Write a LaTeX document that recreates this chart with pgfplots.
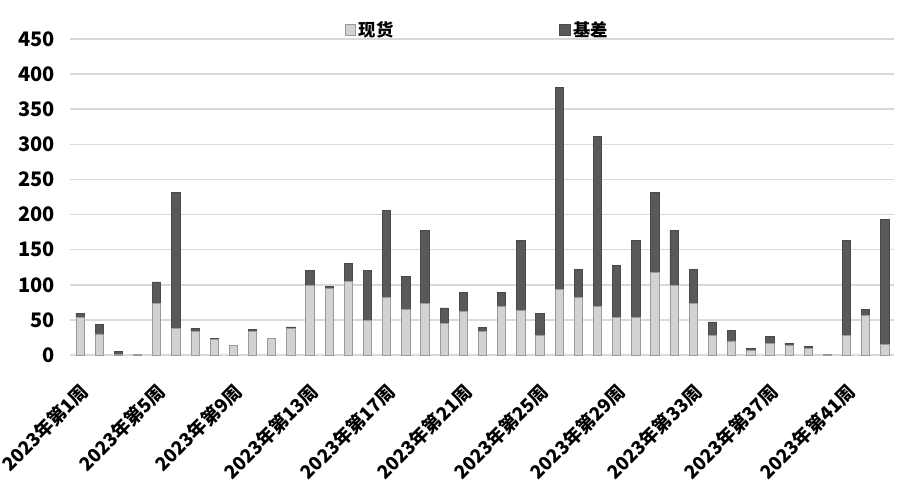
\documentclass[border=0pt]{standalone}
\usepackage{pgfplots}
\pgfplotsset{compat=1.18}
\usepackage{pgfplotstable}
\usepackage{fontspec}
\setmainfont{Noto Sans CJK SC}
\definecolor{xhfill}{HTML}{D2D2D2}
\definecolor{xhdraw}{HTML}{9A9A9A}
\definecolor{jcfill}{HTML}{595959}
\definecolor{jcdraw}{HTML}{4A4A4A}
\definecolor{gridc}{HTML}{D9D9D9}

% week, 现货, 基差
\pgfplotstableread{
week xh jc
1 54 5
2 30 13
3 1 4
4 1 0
5 74 30
6 38 193
7 33 5
8 22 2
9 13 1
10 33 4
11 24 0
12 38 2
13 99 21
14 95 3
15 105 26
16 49 71
17 82 124
18 65 47
19 73 104
20 45 22
21 62 27
22 34 5
23 69 20
24 64 99
25 28 31
26 93 288
27 82 40
28 69 242
29 53 75
30 54 109
31 117 115
32 99 78
33 73 49
34 28 19
35 20 15
36 7 2
37 17 10
38 13 4
39 9 3
40 1 0
41 28 135
42 56 9
43 15 178
}\weekdata

\begin{document}
\begin{tikzpicture}
\useasboundingbox (-52.875pt,-98.25pt) rectangle (622.125pt,266.25pt);
\begin{axis}[
    ybar stacked,
    bar width=6.2pt,
    scale only axis,
    width=618pt,
    height=237pt,
    xmin=0.5, xmax=43.5,
    ymin=0, ymax=450,
    ytick={0,50,...,450},
    xtick={1,5,...,41},
    xticklabels={2023年第1周,2023年第5周,2023年第9周,2023年第13周,2023年第17周,2023年第21周,2023年第25周,2023年第29周,2023年第33周,2023年第37周,2023年第41周},
    axis line style={draw=none},
    major tick length=0pt,
    ymajorgrids=true,
    grid style={gridc, line width=1.1pt},
    /pgf/number format/assume math mode=true,
    yticklabel style={font=\bfseries\fontsize{15}{15}\selectfont, anchor=east, xshift=-8pt},
    xticklabel style={font=\bfseries\fontsize{14}{14}\selectfont, xshift=-1pt, yshift=-15pt, rotate=45, anchor=north east},
    legend style={
        draw=none, fill=none,
        font=\bfseries\fontsize{13}{13}\selectfont,
        at={(0.494,1.0285)}, anchor=center,
        legend columns=2,
        /tikz/every even column/.append style={column sep=122pt},
    },
    legend image code/.code={
        \draw[#1] (0pt,-4pt) rectangle (8pt,4pt);
    },
]
\addplot[fill=xhfill, draw=xhdraw, line width=0.6pt] table[x=week, y=xh] {\weekdata};
\addlegendentry{现货}
\addplot[fill=jcfill, draw=jcdraw, line width=0.6pt] table[x=week, y=jc] {\weekdata};
\addlegendentry{基差}
\end{axis}
\end{tikzpicture}
\end{document}
